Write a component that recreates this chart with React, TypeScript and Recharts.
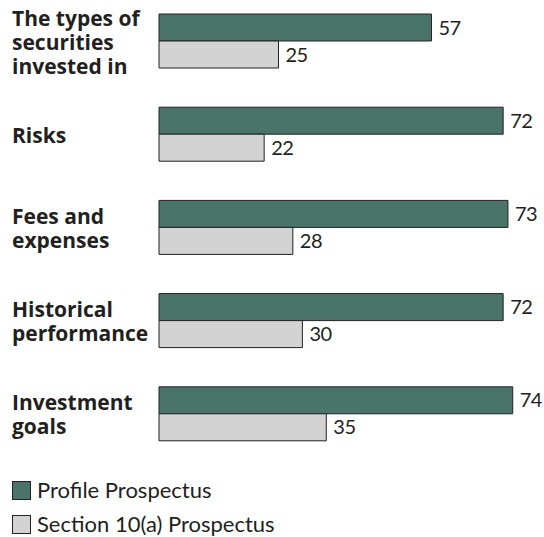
import { BarChart, Bar, XAxis, YAxis, Legend, LabelList } from "recharts";

const categories = [
  "The types of securities invested in",
  "Risks",
  "Fees and expenses",
  "Historical performance",
  "Investment goals",
];
const categoryLines = [
  ["The types of", "securities", "invested in"],
  ["Risks"],
  ["Fees and", "expenses"],
  ["Historical", "performance"],
  ["Investment", "goals"],
];
const profileValues = [57, 72, 73, 72, 74];
const section10aValues = [25, 22, 28, 30, 35];
const seriesNames = ["Profile Prospectus", "Section 10(a) Prospectus"];

const GREEN = "#4a7469";
const GRAY = "#d3d3d3";
const INK = "#231f20";
const valueFont = { fontFamily: "Lato, sans-serif", fontSize: 20, letterSpacing: "-0.5px" };

const data = categories.map((category, i) => ({
  category,
  profile: profileValues[i],
  section: section10aValues[i],
}));

function CategoryTick(props: any) {
  const { y, payload } = props;
  const lines = categoryLines[categories.indexOf(payload.value)] || [payload.value];
  const n = lines.length;
  return (
    <g>
      {lines.map((line, i) => (
        <text
          key={i}
          x={12}
          y={y + 9 + (i - (n - 1) / 2) * 24}
          textAnchor="start"
          fill={INK}
          style={{ fontFamily: "'Open Sans', sans-serif", fontWeight: 700, fontSize: 21 }}
        >
          {line}
        </text>
      ))}
    </g>
  );
}

function LegendContent() {
  const items = [
    { name: seriesNames[0], color: GREEN },
    { name: seriesNames[1], color: GRAY },
  ];
  return (
    <div style={{ height: 77, paddingTop: 17, boxSizing: "border-box", paddingLeft: 12 }}>
      {items.map((item, i) => (
        <div
          key={item.name}
          style={{
            display: "flex",
            alignItems: "center",
            height: 26,
            marginBottom: i === 0 ? 8 : 0,
          }}
        >
          <span
            style={{
              width: 17,
              height: 17,
              background: item.color,
              border: "1px solid #222",
              display: "inline-block",
              flex: "none",
            }}
          />
          <span
            style={{
              marginLeft: 6,
              fontFamily: "Lato, sans-serif",
              fontSize: 22,
              color: INK,
              lineHeight: "26px",
              whiteSpace: "nowrap",
            }}
          >
            {item.name}
          </span>
        </div>
      ))}
    </div>
  );
}

export default function App() {
  return (
    <div style={{ position: "absolute", left: 0, top: -6 }}>
      <BarChart
        width={544}
        height={543}
        data={data}
        layout="vertical"
        margin={{ top: 0, right: 2.6, left: 0, bottom: 0 }}
        barGap={0}
        barSize={27}
      >
        <XAxis type="number" domain={[0, 80]} hide />
        <YAxis
          type="category"
          dataKey="category"
          width={159}
          axisLine={false}
          tickLine={false}
          tick={<CategoryTick />}
          interval={0}
        />
        <Legend
          verticalAlign="bottom"
          align="left"
          layout="horizontal"
          content={<LegendContent />}
        />
        <Bar
          dataKey="profile"
          name={seriesNames[0]}
          fill={GREEN}
          stroke="#222"
          strokeWidth={1}
          isAnimationActive={false}
        >
          <LabelList dataKey="profile" position="right" offset={7} fill={INK} style={valueFont} />
        </Bar>
        <Bar
          dataKey="section"
          name={seriesNames[1]}
          fill={GRAY}
          stroke="#222"
          strokeWidth={1}
          isAnimationActive={false}
        >
          <LabelList dataKey="section" position="right" offset={7} fill={INK} style={valueFont} />
        </Bar>
      </BarChart>
    </div>
  );
}
